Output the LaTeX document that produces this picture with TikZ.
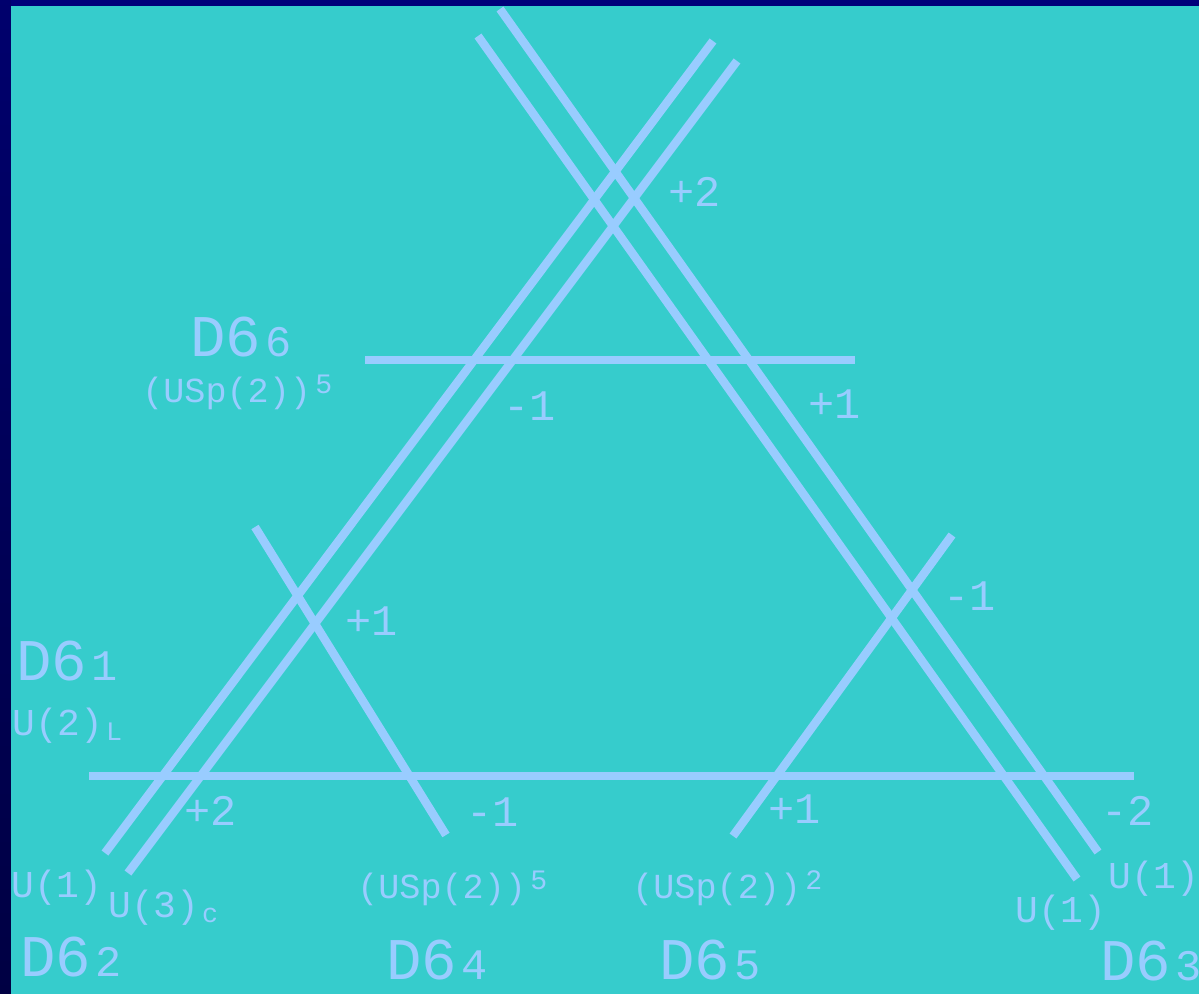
\documentclass[tikz,border=0pt]{standalone}
\usepackage{fontspec}
\setmonofont{Liberation Mono}
\definecolor{bgcol}{HTML}{36CCCC}
\definecolor{branecol}{HTML}{99CCFF}
\definecolor{framecol}{HTML}{00007A}
\newcommand{\dsix}[1]{D6\kern3pt{\fontsize{31}{31}\selectfont#1}}
\newcommand{\uspow}[1]{(USp(2))\kern3pt\raisebox{6pt}{\fontsize{20}{20}\selectfont#1}}
\newcommand{\ulow}[2]{U(#1)\kern2pt\raisebox{-4pt}{\fontsize{19}{19}\selectfont#2}}

\begin{document}
\begin{tikzpicture}[x=0.025cm, y=-0.025cm,
    brane/.style={draw=branecol, line width=6pt},
    lab/.style={text=branecol, inner sep=0pt, anchor=base west},
    dlab/.style={lab, font=\ttfamily\fontsize{42}{42}\selectfont},
    glab/.style={lab, font=\ttfamily\fontsize{25}{25}\selectfont},
    ulab/.style={lab, font=\ttfamily\fontsize{27}{27}\selectfont},
    nlab/.style={lab, font=\ttfamily\fontsize{31}{31}\selectfont}]
    % 背景
    \useasboundingbox (0,0) rectangle (1199,994);
    \fill[framecol] (0,0) rectangle (1199,6);
    \shade[top color=framecol!110!blue, bottom color=framecol!55!black] (0,0) rectangle (11,994);
    \fill[bgcol] (11,6) rectangle (1199,994);

    % 水平 D6
    \draw[brane] (365,360) -- (855,360);
    \draw[brane] (89,776) -- (1134,776);

    % 左侧两条
    \draw[brane] (105,853) -- (713,41);
    \draw[brane] (128,873) -- (737,61);

    % 右侧两条
    \draw[brane] (478,36) -- (1077,879);
    \draw[brane] (500,9) -- (1098,852);

    % 短线
    \draw[brane] (255,527) -- (446,835);
    \draw[brane] (733,836) -- (952,535);

    % 交点数字
    \node[nlab] (n1) at (668,206) {+2};
    \node[nlab] (n2) at (503,420) {-1};
    \node[nlab] (n3) at (808,418) {+1};
    \node[nlab] (n4) at (943,610) {-1};
    \node[nlab] (n5) at (345,635) {+1};
    \node[nlab] (n6) at (184,825) {+2};
    \node[nlab] (n7) at (466,826) {-1};
    \node[nlab] (n8) at (768,823) {+1};
    \node[nlab] (n9) at (1101,825) {-2};

    % D6 名称
    \node[dlab] (d1) at (16,680) {\dsix{1}};
    \node[dlab] (d2) at (20,976) {\dsix{2}};
    \node[dlab] (d3) at (1100,980) {\dsix{3}};
    \node[dlab] (d4) at (386,979) {\dsix{4}};
    \node[dlab] (d5) at (659,979) {\dsix{5}};
    \node[dlab] (d6) at (190,356) {\dsix{6}};

    % 规范群
    \node[glab] (g6) at (142,402) {\uspow{5}};
    \node[glab] (g4) at (357,898) {\uspow{5}};
    \node[glab] (g5) at (632,898) {\uspow{2}};
    \node[ulab] (u2) at (12,735) {\ulow{2}{L}};
    \node[ulab] (u1a) at (11,897) {U(1)};
    \node[ulab] (u3) at (108,917) {\ulow{3}{c}};
    \node[ulab] (u1b) at (1108,888) {U(1)};
    \node[ulab] (u1c) at (1015,922) {U(1)};
\end{tikzpicture}
\end{document}
